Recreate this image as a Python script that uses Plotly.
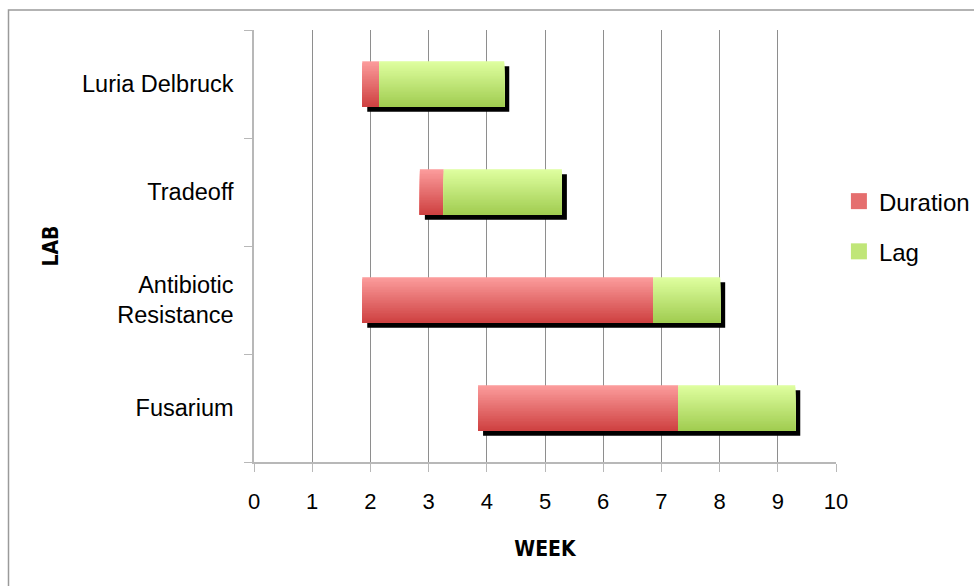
import plotly.graph_objects as go

# ---- data ----
labs = ["Fusarium", "Antibiotic<br>Resistance", "Tradeoff", "Luria Delbruck"]
start = [3.85, 1.86, 2.85, 1.86]
duration = [3.44, 5.00, 0.41, 0.29]
lag = [2.01, 1.15, 2.03, 2.15]
x_ticks = list(range(0, 11))

# ---- style ----
FONT = "Liberation Sans, Arial, sans-serif"
TITLE_FONT = "DejaVu Sans Condensed, Liberation Sans Narrow, Liberation Sans, Arial, sans-serif"
BAR_W = 0.42
N = 28
RED_TOP, RED_BOT = (252, 157, 157), (206, 64, 64)
GRN_TOP, GRN_BOT = (223, 255, 160), (160, 204, 80)
L, R, T, B = 254, 138, 30, 124
W, H = 974, 586
px_x = (W - L - R) / 10.0
px_y = (H - T - B) / 4.0
dx = 5 / px_x
dy = 5 / px_y


def lerp(c1, c2, t):
    return "rgb(%d,%d,%d)" % tuple(round(a + (b - a) * t) for a, b in zip(c1, c2))


fig = go.Figure()

total = [d + g for d, g in zip(duration, lag)]
lag_base = [s + d for s, d in zip(start, duration)]

# drop shadow (main axes, shifted ranges)
fig.add_trace(go.Bar(
    y=labs, x=total, base=start, orientation="h", width=BAR_W,
    marker=dict(color="black", line=dict(width=0)),
    xaxis="x", yaxis="y", showlegend=False, hoverinfo="skip"))

series = [
    ("Duration", duration, start, RED_TOP, RED_BOT),
    ("Lag", lag, lag_base, GRN_TOP, GRN_BOT),
]
for name, vals, base, ctop, cbot in series:
    for i in range(N):
        h = BAR_W * (1 - i / N)
        fig.add_trace(go.Bar(
            y=labs, x=vals, base=base, orientation="h",
            width=h, offset=-BAR_W / 2,
            marker=dict(color=lerp(ctop, cbot, (i + 0.5) / N), line=dict(width=0)),
            xaxis="x2", yaxis="y2", showlegend=False, name=name,
            legendgroup=name, hoverinfo="skip"))
    # legend entry
    fig.add_trace(go.Scatter(
        x=[None], y=[None], mode="markers", name=name, legendgroup=name,
        marker=dict(symbol="square", size=17, color=lerp(ctop, cbot, 0.5)),
        xaxis="x2", yaxis="y2", showlegend=True))

fig.update_layout(
    width=W, height=H,
    margin=dict(l=L, r=R, t=T, b=B, autoexpand=False),
    paper_bgcolor="white", plot_bgcolor="white",
    barmode="overlay",
    font=dict(family=FONT, size=22, color="black"),
    showlegend=True,
    legend=dict(x=1.005, xanchor="left", y=0.655, yanchor="top",
                font=dict(size=24), tracegroupgap=16,
                itemclick=False, bgcolor="rgba(0,0,0,0)"),
    xaxis=dict(range=[-dx, 10 - dx], visible=False, fixedrange=True),
    yaxis=dict(type="category", categoryarray=labs,
               range=[-0.5 + dy, 3.5 + dy], visible=False),
    xaxis2=dict(overlaying="x", anchor="y2", side="bottom",
                range=[0, 10], tickvals=x_ticks, ticktext=[str(v) for v in x_ticks],
                showgrid=True, gridcolor="#8e8e8e", gridwidth=1,
                showline=True, linecolor="#b8b8b8", linewidth=1.5,
                ticks="outside", ticklen=8, tickcolor="#b8b8b8",
                zeroline=False, tickfont=dict(size=22), ticklabelstandoff=11,
                title=dict(text="<b>WEEK</b>", standoff=28,
                           font=dict(family=TITLE_FONT, size=21))),
    yaxis2=dict(overlaying="y", anchor="x2", side="left", type="category",
                categoryarray=labs, range=[-0.5, 3.5],
                tickson="boundaries", ticks="outside", ticklen=8,
                tickcolor="#b8b8b8", showline=True, linecolor="#b8b8b8",
                linewidth=1.5, showgrid=False, ticklabelstandoff=14,
                tickfont=dict(size=23.5),
                title=dict(text="<b>LAB</b>", standoff=18,
                           font=dict(family=TITLE_FONT, size=21))),
    shapes=[dict(type="rect", xref="paper", yref="paper",
                 x0=(8.5 - L) / (W - L - R), x1=1.5,
                 y0=-0.5, y1=(H - B - 10) / (H - T - B),
                 line=dict(color="#9a9a9a", width=1.5), layer="below")],
)

fig.write_html("out.html")
